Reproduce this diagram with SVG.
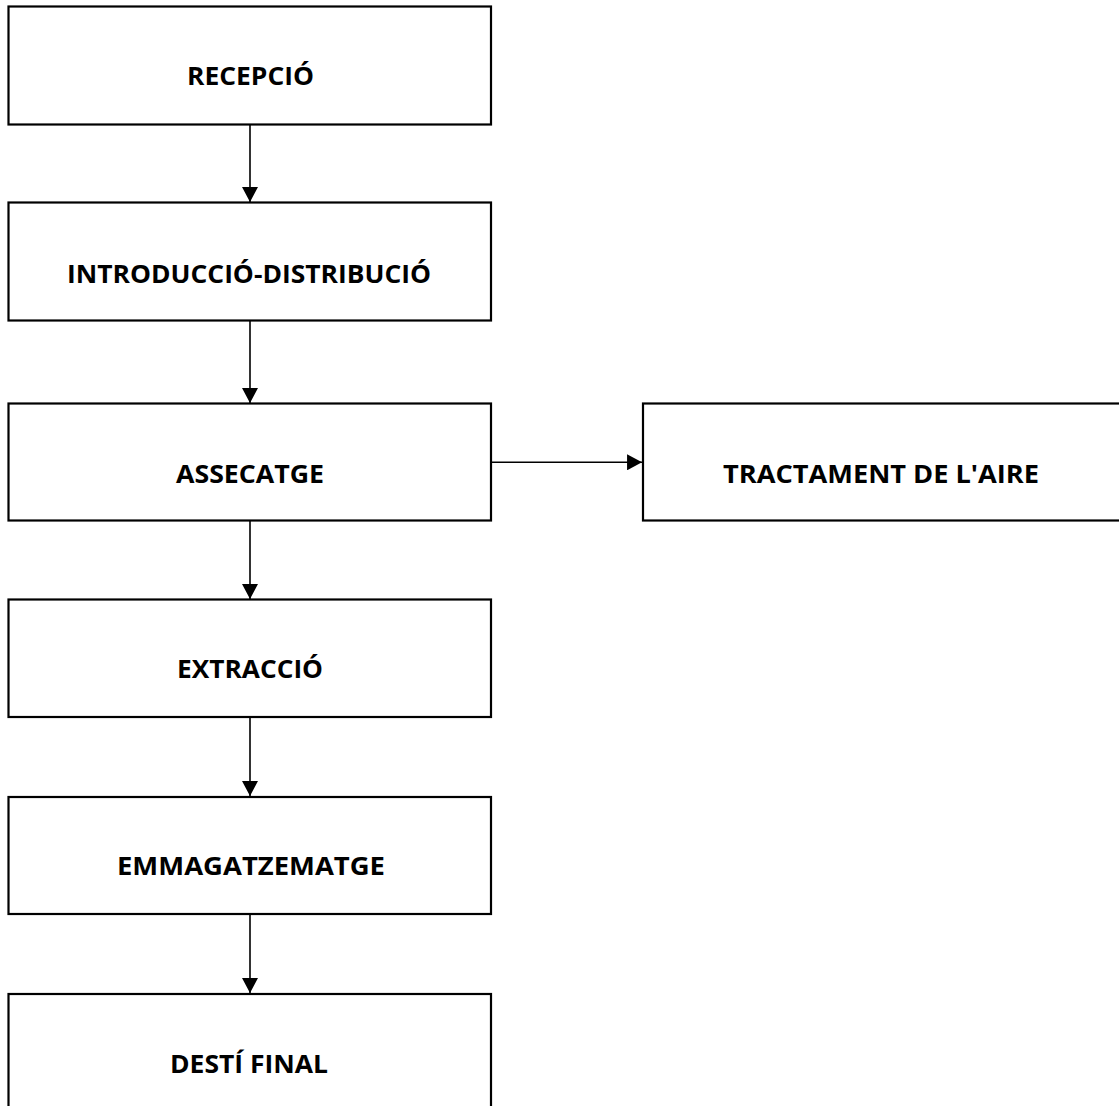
<svg xmlns="http://www.w3.org/2000/svg" width="1119" height="1106" viewBox="0 0 1119 1106">
<style>
.box{fill:#fff;stroke:#000;stroke-width:2.2}
.lbl{font-family:"Open Sans","Liberation Sans",sans-serif;font-weight:bold;font-size:25px;fill:#000;text-anchor:middle}
.con{stroke:#000;stroke-width:1.6;fill:none}
</style>
<defs>
<marker id="ah" markerUnits="userSpaceOnUse" markerWidth="16" markerHeight="16" viewBox="0 0 14 15" refX="14" refY="7.5" orient="auto">
<path d="M0,0 L14,7.5 L0,15 Z" fill="#000"/>
</marker>
</defs>
<rect width="1119" height="1106" fill="#fff"/>
<g id="connectors">
<line class="con" x1="250" y1="125" x2="250" y2="202" marker-end="url(#ah)"/>
<line class="con" x1="250" y1="321" x2="250" y2="403" marker-end="url(#ah)"/>
<line class="con" x1="250" y1="521" x2="250" y2="599" marker-end="url(#ah)"/>
<line class="con" x1="250" y1="718" x2="250" y2="796" marker-end="url(#ah)"/>
<line class="con" x1="250" y1="915" x2="250" y2="993" marker-end="url(#ah)"/>
<line class="con" x1="491" y1="462.3" x2="642" y2="462.3" marker-end="url(#ah)"/>
</g>
<g id="recepcio">
<rect class="box" x="8.5" y="6.5" width="482.5" height="118"/>
<text class="lbl" x="250.5" y="85" textLength="127" lengthAdjust="spacingAndGlyphs">RECEPCIÓ</text>
</g>
<g id="introduccio">
<rect class="box" x="8.5" y="202.5" width="482.5" height="118"/>
<text class="lbl" x="249" y="283" textLength="364" lengthAdjust="spacingAndGlyphs">INTRODUCCIÓ-DISTRIBUCIÓ</text>
</g>
<g id="assecatge">
<rect class="box" x="8.5" y="403.5" width="482.5" height="117"/>
<text class="lbl" x="250" y="483" textLength="148" lengthAdjust="spacingAndGlyphs">ASSECATGE</text>
</g>
<g id="tractament">
<rect class="box" x="643" y="403.5" width="490" height="117"/>
<text class="lbl" x="881" y="483" textLength="316" lengthAdjust="spacingAndGlyphs">TRACTAMENT DE L'AIRE</text>
</g>
<g id="extraccio">
<rect class="box" x="8.5" y="599.5" width="482.5" height="117.5"/>
<text class="lbl" x="250" y="678" textLength="146" lengthAdjust="spacingAndGlyphs">EXTRACCIÓ</text>
</g>
<g id="emmagatzematge">
<rect class="box" x="8.5" y="797" width="482.5" height="117"/>
<text class="lbl" x="251" y="875" textLength="268" lengthAdjust="spacingAndGlyphs">EMMAGATZEMATGE</text>
</g>
<g id="desti">
<rect class="box" x="8.5" y="994" width="482.5" height="130"/>
<text class="lbl" x="249" y="1073" textLength="158" lengthAdjust="spacingAndGlyphs">DESTÍ FINAL</text>
</g>
</svg>
